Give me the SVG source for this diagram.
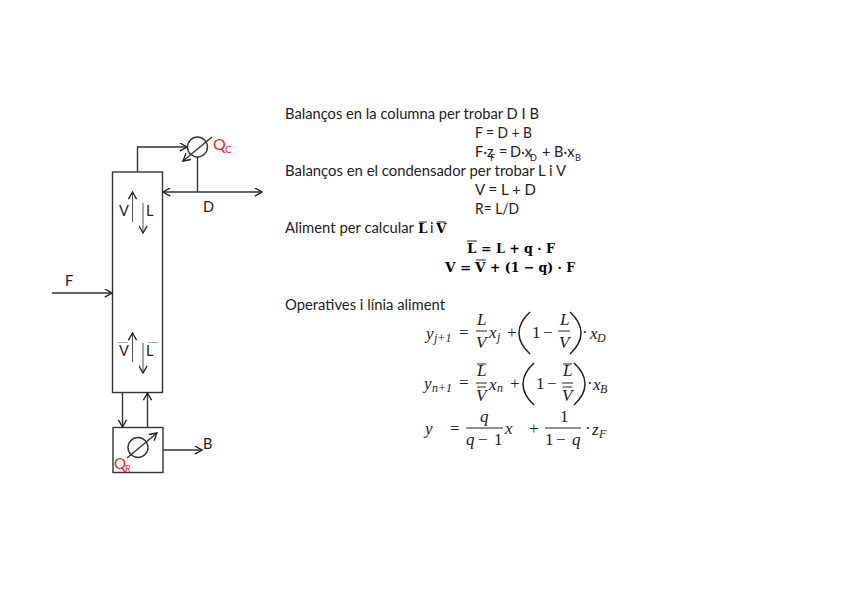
<svg xmlns="http://www.w3.org/2000/svg" width="848" height="599" viewBox="0 0 848 599">
<defs>
<marker id="a" viewBox="0 0 10 10" refX="9" refY="5" markerWidth="9" markerHeight="9" markerUnits="userSpaceOnUse" orient="auto-start-reverse"><path d="M1 0.5L9 5L1 9.5" fill="none" stroke="#222" stroke-width="1.5"/></marker>
</defs>
<style>
.l{fill:none;stroke:#333;stroke-width:1.4}
.t{font-family:Lato,"Liberation Sans",sans-serif;font-size:14.5px;fill:#222}
.s{font-family:Lato,"Liberation Sans",sans-serif;font-size:9px;fill:#222}
.m{font-family:"Liberation Serif","DejaVu Serif",serif;font-size:17px;fill:#222}
.i{font-style:italic}
.b{font-family:"DejaVu Serif",serif;font-weight:bold;font-size:13.5px}
.r{fill:#f0202a}
.h{fill:none;stroke:#222;stroke-width:1}
.p{fill:none;stroke:#222;stroke-width:1.5}
</style>
<rect width="848" height="599" fill="#fff"/>
<g id="column"><rect class="l" x="112.5" y="172" width="50" height="220.500"/>
<text class="t" x="119" y="216">V</text><text class="t" x="146" y="216">L</text>
<text class="t" x="119" y="356">V</text><text class="t" x="146" y="356">L</text>
<path d="M117.500 342.500H128M148 342.500H158" stroke="#aaa" fill="none"/></g>
<g id="condenser"><circle class="l" cx="197.500" cy="147" r="10"/><text class="t r" x="213" y="150" style="font-size:16px">Q</text><text class="s r" x="225" y="153" style="font-size:10px">C</text></g>
<g id="reboiler"><rect class="l" x="113" y="427.500" width="50" height="45"/><circle class="l" cx="138" cy="447.500" r="10"/><text class="t r" x="114" y="469" style="font-size:15px">Q</text><text class="s r" x="125" y="472" style="font-size:9px">R</text></g>
<g id="connectors">
<path class="l" d="M137.500 172V147H187" marker-end="url(#a)"/>
<path class="l" d="M212 137L183 161" marker-end="url(#a)"/>
<path class="l" d="M197.500 157V192"/>
<path class="l" d="M163 192H262" marker-start="url(#a)" marker-end="url(#a)"/>
<path class="l" d="M52 293H112" marker-end="url(#a)"/>
<path d="M132.500 222V192" stroke="#555" fill="none" marker-end="url(#a)"/>
<path d="M143 203V233" stroke="#555" fill="none" marker-end="url(#a)"/>
<path d="M132.500 362V333" stroke="#555" fill="none" marker-end="url(#a)"/>
<path d="M143 343V373" stroke="#555" fill="none" marker-end="url(#a)"/>
<path class="l" d="M122.500 392.500V427" marker-end="url(#a)"/>
<path class="l" d="M147.500 427V393" marker-end="url(#a)"/>
<path class="l" d="M127 458L157 433" marker-end="url(#a)"/>
<path class="l" d="M163 450H202" marker-end="url(#a)"/>
</g>
<g id="labels">
<text class="t" x="203" y="212">D</text><text class="t" x="65" y="286">F</text><text class="t" x="203" y="449">B</text>
<text class="t" x="285" y="119" textLength="254" lengthAdjust="spacingAndGlyphs">Balanços en la columna per trobar D I B</text>
<text class="t" x="475" y="138" textLength="57" lengthAdjust="spacingAndGlyphs">F = D + B</text>
<text class="t" x="475" y="157">F·z</text><text class="s" x="490" y="161">F</text><text class="t" x="499" y="157">=</text>
<text class="t" x="510" y="157">D·x</text><text class="s" x="530" y="161">D</text><text class="t" x="542" y="157">+ B·x</text><text class="s" x="575" y="161">B</text>
<text class="t" x="285" y="176" textLength="281" lengthAdjust="spacingAndGlyphs">Balanços en el condensador per trobar L i V</text>
<text class="t" x="475" y="195" textLength="61" lengthAdjust="spacingAndGlyphs">V =  L + D</text>
<text class="t" x="475" y="214" textLength="44" lengthAdjust="spacingAndGlyphs">R= L/D</text>
<text class="t" x="285" y="233" textLength="129" lengthAdjust="spacingAndGlyphs">Aliment per calcular</text>
<text class="b" x="418" y="233">L</text><text class="t" x="430" y="233">i</text><text class="b" x="436" y="233">V</text>
<path class="h" d="M419 222H427M437 222H446"/>
<text class="b" x="467" y="253">L</text><text class="b" x="481" y="253" textLength="74" lengthAdjust="spacingAndGlyphs">= L + q · F</text>
<path class="h" d="M467 241H477"/>
<text class="b" x="445" y="272">V</text><text class="b" x="460" y="272">=</text><text class="b" x="475" y="272">V</text><text class="b" x="490" y="272" textLength="85" lengthAdjust="spacingAndGlyphs">+ (1 − q) · F</text>
<path class="h" d="M476 260H486"/>
<text class="t" x="285" y="310" textLength="160" lengthAdjust="spacingAndGlyphs">Operatives i línia aliment</text>
<!-- eq 1 -->
<text class="m i" x="426" y="339">y</text><text class="m i" x="434" y="342" style="font-size:12px">j+1</text><text class="m" x="459" y="338">=</text>
<text class="m i" x="477" y="325">L</text><path class="h" d="M476 331H487"/><text class="m i" x="476" y="348">V</text>
<text class="m i" x="489" y="338">x</text><text class="m i" x="497" y="341" style="font-size:12px">j</text><text class="m" x="507" y="338">+</text>
<path class="p" d="M530 312Q519 322 519 333Q519 344 530 354"/>
<text class="m" x="532" y="338">1</text><text class="m" x="543" y="338">−</text>
<text class="m i" x="560" y="325">L</text><path class="h" d="M558 331H570"/><text class="m i" x="559" y="348">V</text>
<path class="p" d="M570 312Q581 322 581 333Q581 344 570 354"/>
<text class="m" x="582" y="338">·</text><text class="m i" x="590" y="339">x</text><text class="m i" x="597" y="342" style="font-size:12px">D</text>
<!-- eq 2 -->
<text class="m i" x="424" y="389">y</text><text class="m i" x="432" y="392" style="font-size:12px">n+1</text><text class="m" x="459" y="388">=</text>
<text class="m i" x="477" y="376">L</text><path class="h" d="M477 364H486M476 383H487M477 387H486"/><text class="m i" x="476" y="401">V</text>
<text class="m i" x="489" y="390">x</text><text class="m i" x="497" y="392" style="font-size:12px">n</text><text class="m" x="510" y="389">+</text>
<path class="p" d="M534 363Q523 373 523 384Q523 395 534 405"/>
<text class="m" x="536" y="389">1</text><text class="m" x="547" y="389">−</text>
<text class="m i" x="563" y="376">L</text><path class="h" d="M563 364H572M562 383H573M563 387H572"/><text class="m i" x="562" y="401">V</text>
<path class="p" d="M574 363Q585 373 585 384Q585 395 574 405"/>
<text class="m" x="587" y="389">·</text><text class="m i" x="593" y="390">x</text><text class="m i" x="600" y="393" style="font-size:12px">B</text>
<!-- eq 3 -->
<text class="m i" x="425" y="434">y</text><text class="m" x="450" y="434">=</text>
<text class="m i" x="480" y="422">q</text><path class="h" d="M466 428H503"/><text class="m i" x="466" y="445">q</text><text class="m" x="478" y="445">−</text><text class="m" x="494" y="445">1</text>
<text class="m i" x="505" y="434">x</text><text class="m" x="529" y="434">+</text>
<text class="m" x="560" y="422">1</text><path class="h" d="M545 428H581"/><text class="m" x="545" y="445">1</text><text class="m" x="556" y="445">−</text><text class="m i" x="572" y="445">q</text>
<text class="m" x="585" y="434">·</text><text class="m i" x="592" y="435">z</text><text class="m i" x="599" y="438" style="font-size:12px">F</text>
</g>
</svg>
